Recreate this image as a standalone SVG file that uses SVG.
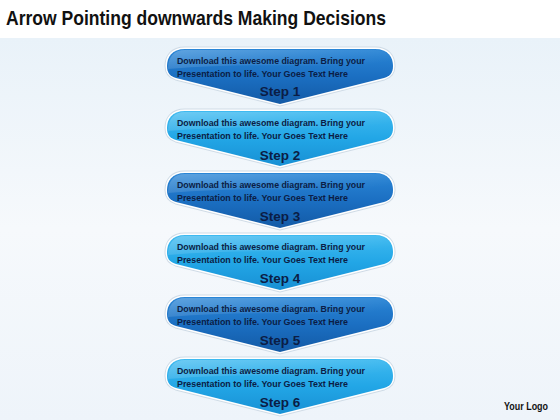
<svg xmlns="http://www.w3.org/2000/svg" width="560" height="420" viewBox="0 0 560 420">
<defs>
<linearGradient id="bg" x1="0" y1="0" x2="0" y2="1">
<stop offset="0" stop-color="#e9f2f9"/>
<stop offset="0.5" stop-color="#f6f9fc"/>
<stop offset="1" stop-color="#eef4fa"/>
</linearGradient>
<linearGradient id="dark" x1="0" y1="0" x2="0" y2="1">
<stop offset="0" stop-color="#2a86d6"/>
<stop offset="0.5" stop-color="#1b6fc2"/>
<stop offset="1" stop-color="#135aa6"/>
</linearGradient>
<linearGradient id="light" x1="0" y1="0" x2="0" y2="1">
<stop offset="0" stop-color="#3fbaf0"/>
<stop offset="0.5" stop-color="#22a6e6"/>
<stop offset="1" stop-color="#1890d4"/>
</linearGradient>
<linearGradient id="sheen" x1="0" y1="0" x2="1" y2="0.6">
<stop offset="0" stop-color="#ffffff" stop-opacity="0.25"/>
<stop offset="0.6" stop-color="#ffffff" stop-opacity="0.08"/>
<stop offset="1" stop-color="#ffffff" stop-opacity="0"/>
</linearGradient>
<path id="arrow" d="M -95,0 H 95 C 108,0 113,8 113,17 C 113,24 110,27 104,29 L 0,55 L -104,29 C -110,27 -113,24 -113,17 C -113,8 -108,0 -95,0 Z"/>
<path id="gloss" d="M -95,1 H 95 C 106,1 111,7 112,14 C 60,20 -20,12 -112,20 C -112,8 -106,1 -95,1 Z"/>
</defs>
<style>
.outer{fill:none;stroke:#cfdbe6;stroke-width:5}
.rim{fill:none;stroke:#ffffff;stroke-width:3}
.d{fill:url(#dark)}
.l{fill:url(#light)}
.g{fill:url(#sheen)}
.body{font-family:"Liberation Sans",Arial,sans-serif;font-weight:bold;font-size:9.6px;fill:#0b1d45}
.step{font-family:"Liberation Sans",Arial,sans-serif;font-weight:bold;font-size:13.5px;fill:#0b1d45;text-anchor:middle}
.title{font-family:"Liberation Sans",Arial,sans-serif;font-weight:bold;font-size:21px;fill:#111111}
.logo{font-family:"Liberation Sans",Arial,sans-serif;font-weight:bold;font-size:10px;fill:#111111}
</style>
<rect x="0" y="0" width="560" height="420" fill="#ffffff"/>
<rect x="0" y="38" width="560" height="382" fill="url(#bg)"/>
<text class="title" x="6" y="25" textLength="380" lengthAdjust="spacingAndGlyphs">Arrow Pointing downwards Making Decisions</text>

<g id="step1" transform="translate(280,49)">
<use href="#arrow" class="outer"/><use href="#arrow" class="rim"/><use href="#arrow" class="d"/><use href="#gloss" class="g"/>
<text class="body" x="-103" y="15" textLength="188" lengthAdjust="spacingAndGlyphs">Download this awesome diagram.  Bring your</text>
<text class="body" x="-103" y="28" textLength="171" lengthAdjust="spacingAndGlyphs">Presentation to life. Your Goes Text  Here</text>
<text class="step" x="0" y="47">Step 1</text>
</g>
<g id="step2" transform="translate(280,111)">
<use href="#arrow" class="outer"/><use href="#arrow" class="rim"/><use href="#arrow" class="l"/><use href="#gloss" class="g"/>
<text class="body" x="-103" y="15" textLength="188" lengthAdjust="spacingAndGlyphs">Download this awesome diagram.  Bring your</text>
<text class="body" x="-103" y="28" textLength="171" lengthAdjust="spacingAndGlyphs">Presentation to life. Your Goes Text  Here</text>
<text class="step" x="0" y="49">Step 2</text>
</g>
<g id="step3" transform="translate(280,173)">
<use href="#arrow" class="outer"/><use href="#arrow" class="rim"/><use href="#arrow" class="d"/><use href="#gloss" class="g"/>
<text class="body" x="-103" y="15" textLength="188" lengthAdjust="spacingAndGlyphs">Download this awesome diagram.  Bring your</text>
<text class="body" x="-103" y="28" textLength="171" lengthAdjust="spacingAndGlyphs">Presentation to life. Your Goes Text  Here</text>
<text class="step" x="0" y="48">Step 3</text>
</g>
<g id="step4" transform="translate(280,235)">
<use href="#arrow" class="outer"/><use href="#arrow" class="rim"/><use href="#arrow" class="l"/><use href="#gloss" class="g"/>
<text class="body" x="-103" y="15" textLength="188" lengthAdjust="spacingAndGlyphs">Download this awesome diagram.  Bring your</text>
<text class="body" x="-103" y="28" textLength="171" lengthAdjust="spacingAndGlyphs">Presentation to life. Your Goes Text  Here</text>
<text class="step" x="0" y="48">Step 4</text>
</g>
<g id="step5" transform="translate(280,297)">
<use href="#arrow" class="outer"/><use href="#arrow" class="rim"/><use href="#arrow" class="d"/><use href="#gloss" class="g"/>
<text class="body" x="-103" y="15" textLength="188" lengthAdjust="spacingAndGlyphs">Download this awesome diagram.  Bring your</text>
<text class="body" x="-103" y="28" textLength="171" lengthAdjust="spacingAndGlyphs">Presentation to life. Your Goes Text  Here</text>
<text class="step" x="0" y="48">Step 5</text>
</g>
<g id="step6" transform="translate(280,359)">
<use href="#arrow" class="outer"/><use href="#arrow" class="rim"/><use href="#arrow" class="l"/><use href="#gloss" class="g"/>
<text class="body" x="-103" y="15" textLength="188" lengthAdjust="spacingAndGlyphs">Download this awesome diagram.  Bring your</text>
<text class="body" x="-103" y="28" textLength="171" lengthAdjust="spacingAndGlyphs">Presentation to life. Your Goes Text  Here</text>
<text class="step" x="0" y="48">Step 6</text>
</g>
<g id="connectors"/>
<text class="logo" x="504" y="410" textLength="44" lengthAdjust="spacingAndGlyphs">Your Logo</text>
</svg>
